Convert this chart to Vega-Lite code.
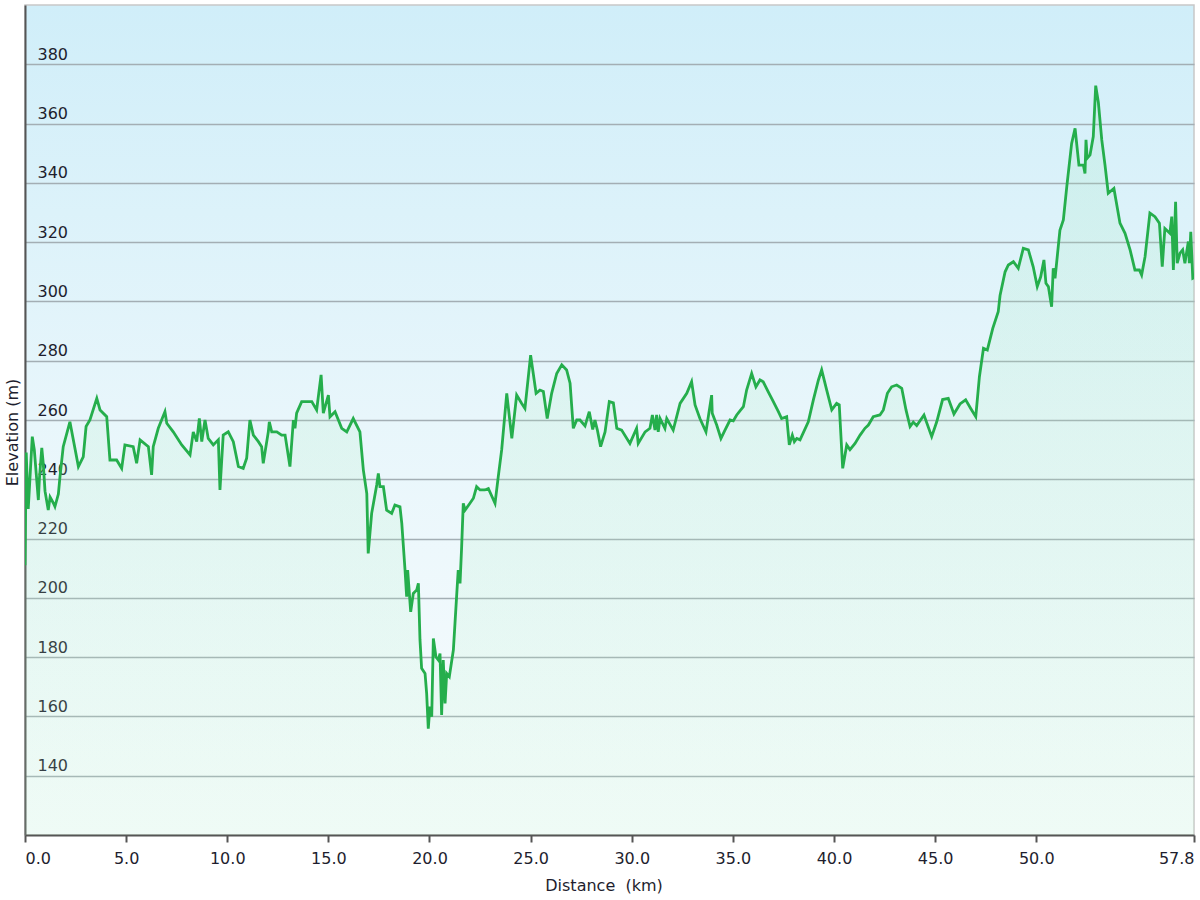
{
"$schema": "https://vega.github.io/schema/vega-lite/v6.json",
"width": 1169,
"height": 830,
"autosize": {"type": "none"},
"padding": {"left": 25, "top": 5, "right": 6, "bottom": 65},
"background": "white",
"config": {
  "font": "DejaVu Sans",
  "view": {
    "fill": {"gradient": "linear", "x1": 0, "y1": 0, "x2": 0, "y2": 1, "stops": [{"offset": 0, "color": "#d0eef9"}, {"offset": 0.5, "color": "#e8f6fb"}, {"offset": 1, "color": "#f8fcfe"}]},
    "stroke": "#c8c8c8",
    "strokeWidth": 1.5
  }
},
"data": {"values": [
{"d":0,"e":211},{"d":0.06,"e":249},{"d":0.16,"e":230},{"d":0.36,"e":254.4},{"d":0.46,"e":250},{"d":0.66,"e":233},{"d":0.71,"e":240},{"d":0.83,"e":250.6},{"d":0.9,"e":245.5},{"d":0.99,"e":236},{"d":1.15,"e":229.6},{"d":1.24,"e":234},{"d":1.4,"e":232},{"d":1.48,"e":230.8},{"d":1.65,"e":235},{"d":1.73,"e":240.9},{"d":1.89,"e":251},{"d":2.22,"e":259.4},{"d":2.64,"e":244.3},{"d":2.88,"e":247.6},{"d":3.02,"e":257.8},{"d":3.21,"e":260},{"d":3.55,"e":267.3},{"d":3.71,"e":263.4},{"d":4.04,"e":261.1},{"d":4.2,"e":246.5},{"d":4.53,"e":246.5},{"d":4.78,"e":243.7},{"d":4.94,"e":251.6},{"d":5.35,"e":251},{"d":5.52,"e":245.4},{"d":5.69,"e":253.3},{"d":6.1,"e":251},{"d":6.26,"e":241.5},{"d":6.34,"e":251},{"d":6.59,"e":257.2},{"d":6.92,"e":262.8},{"d":7.01,"e":258.9},{"d":7.33,"e":256},{"d":7.75,"e":251.6},{"d":8.16,"e":248.2},{"d":8.32,"e":256},{"d":8.49,"e":252.7},{"d":8.62,"e":260.5},{"d":8.74,"e":252.7},{"d":8.9,"e":260},{"d":9.06,"e":253.8},{"d":9.31,"e":251.6},{"d":9.56,"e":253.3},{"d":9.64,"e":236.4},{"d":9.8,"e":254.9},{"d":10.05,"e":256},{"d":10.3,"e":252.7},{"d":10.55,"e":244.3},{"d":10.79,"e":243.7},{"d":10.96,"e":247.1},{"d":11.12,"e":260},{"d":11.29,"e":254.9},{"d":11.54,"e":252.7},{"d":11.7,"e":251},{"d":11.78,"e":245.4},{"d":12.03,"e":256},{"d":12.08,"e":259.4},{"d":12.2,"e":256},{"d":12.45,"e":256},{"d":12.69,"e":254.9},{"d":12.86,"e":254.9},{"d":13.1,"e":244.3},{"d":13.27,"e":260},{"d":13.35,"e":257.2},{"d":13.43,"e":262.3},{"d":13.68,"e":266.2},{"d":14.18,"e":266.2},{"d":14.42,"e":263.4},{"d":14.64,"e":275.2},{"d":14.75,"e":262.3},{"d":15,"e":268.4},{"d":15.08,"e":261.1},{"d":15.33,"e":262.8},{"d":15.66,"e":257.2},{"d":15.91,"e":256},{"d":16.23,"e":260.5},{"d":16.56,"e":256},{"d":16.73,"e":243.1},{"d":16.9,"e":235.2},{"d":16.97,"e":215},{"d":17.14,"e":228.5},{"d":17.39,"e":238.1},{"d":17.47,"e":242},{"d":17.55,"e":237.5},{"d":17.72,"e":237.5},{"d":17.88,"e":229.6},{"d":18.13,"e":228.5},{"d":18.29,"e":231.3},{"d":18.54,"e":230.7},{"d":18.63,"e":225.1},{"d":18.79,"e":209.4},{"d":18.87,"e":200.4},{"d":18.92,"e":209.4},{"d":19.07,"e":195.3},{"d":19.2,"e":201.5},{"d":19.37,"e":202.7},{"d":19.45,"e":204.9},{"d":19.53,"e":185.8},{"d":19.61,"e":176.2},{"d":19.78,"e":174.5},{"d":19.86,"e":167.7},{"d":19.94,"e":155.9},{"d":20.02,"e":163.3},{"d":20.11,"e":159.9},{"d":20.19,"e":186.3},{"d":20.32,"e":180.1},{"d":20.44,"e":179},{"d":20.52,"e":181.2},{"d":20.6,"e":160.5},{"d":20.68,"e":179},{"d":20.77,"e":164.4},{"d":20.85,"e":174.5},{"d":20.98,"e":173.4},{"d":21.18,"e":182.4},{"d":21.26,"e":191.4},{"d":21.34,"e":200.4},{"d":21.42,"e":209.4},{"d":21.51,"e":204.9},{"d":21.59,"e":217.3},{"d":21.67,"e":231.9},{"d":21.76,"e":229.6},{"d":22,"e":231.9},{"d":22.17,"e":233.6},{"d":22.33,"e":237.5},{"d":22.5,"e":236.4},{"d":22.74,"e":236.4},{"d":22.91,"e":236.9},{"d":23.24,"e":231.9},{"d":23.4,"e":240.9},{"d":23.57,"e":250},{"d":23.82,"e":269},{"d":24.07,"e":253.8},{"d":24.31,"e":268.4},{"d":24.56,"e":265.6},{"d":24.72,"e":263.9},{"d":25,"e":281.9},{"d":25.27,"e":269},{"d":25.46,"e":270.1},{"d":25.63,"e":269.6},{"d":25.82,"e":260.5},{"d":26.04,"e":269},{"d":26.29,"e":275.7},{"d":26.54,"e":278.6},{"d":26.78,"e":276.9},{"d":26.95,"e":272.4},{"d":27.11,"e":257.2},{"d":27.28,"e":260},{"d":27.44,"e":260},{"d":27.69,"e":258},{"d":27.9,"e":262.8},{"d":28.07,"e":256.8},{"d":28.18,"e":260},{"d":28.3,"e":256.6},{"d":28.46,"e":251},{"d":28.68,"e":256},{"d":28.89,"e":266.2},{"d":29.09,"e":265.8},{"d":29.26,"e":257.2},{"d":29.5,"e":256.6},{"d":29.91,"e":252.1},{"d":30.24,"e":257.2},{"d":30.32,"e":252.1},{"d":30.66,"e":256},{"d":30.9,"e":257.2},{"d":31.02,"e":261.7},{"d":31.15,"e":256.6},{"d":31.23,"e":261.7},{"d":31.31,"e":256},{"d":31.4,"e":260.5},{"d":31.64,"e":257.2},{"d":31.73,"e":260.5},{"d":32.05,"e":256.6},{"d":32.39,"e":265.6},{"d":32.72,"e":269},{"d":32.96,"e":272.9},{"d":33.13,"e":265.1},{"d":33.37,"e":260.5},{"d":33.67,"e":256},{"d":33.95,"e":268.4},{"d":33.98,"e":262.3},{"d":34.2,"e":258.3},{"d":34.41,"e":253.8},{"d":34.61,"e":256.6},{"d":34.86,"e":260},{"d":35.02,"e":259.7},{"d":35.19,"e":261.7},{"d":35.35,"e":263.1},{"d":35.52,"e":264.5},{"d":35.68,"e":270.1},{"d":35.93,"e":275.7},{"d":36.14,"e":271.2},{"d":36.34,"e":273.5},{"d":36.5,"e":272.9},{"d":36.75,"e":269.5},{"d":37,"e":266.2},{"d":37.25,"e":262.8},{"d":37.41,"e":260.5},{"d":37.66,"e":261.1},{"d":37.79,"e":251.6},{"d":37.94,"e":254.9},{"d":38.04,"e":252.7},{"d":38.16,"e":253.8},{"d":38.32,"e":253.3},{"d":38.73,"e":259.4},{"d":38.98,"e":266.8},{"d":39.23,"e":273.5},{"d":39.39,"e":276.9},{"d":39.64,"e":270.1},{"d":39.89,"e":263.4},{"d":40.13,"e":265.6},{"d":40.26,"e":265.1},{"d":40.43,"e":243.7},{"d":40.63,"e":251.6},{"d":40.79,"e":250},{"d":41.04,"e":252.1},{"d":41.29,"e":254.9},{"d":41.53,"e":257.2},{"d":41.7,"e":258.3},{"d":41.94,"e":261.1},{"d":42.27,"e":261.7},{"d":42.44,"e":263.4},{"d":42.64,"e":269},{"d":42.85,"e":271.2},{"d":43.1,"e":271.8},{"d":43.35,"e":270.7},{"d":43.56,"e":263.4},{"d":43.76,"e":257.8},{"d":43.92,"e":259.3},{"d":44.09,"e":258.1},{"d":44.45,"e":261.7},{"d":44.83,"e":254.4},{"d":45.08,"e":259.4},{"d":45.37,"e":266.9},{"d":45.65,"e":267.3},{"d":45.93,"e":262},{"d":46.23,"e":265.4},{"d":46.51,"e":266.8},{"d":46.76,"e":263.9},{"d":47.01,"e":261.1},{"d":47.19,"e":274.6},{"d":47.39,"e":284.2},{"d":47.58,"e":283.6},{"d":47.85,"e":290.9},{"d":48.12,"e":296.5},{"d":48.21,"e":302},{"d":48.46,"e":310},{"d":48.62,"e":312.3},{"d":48.87,"e":313.4},{"d":49.11,"e":311.2},{"d":49.36,"e":317.9},{"d":49.61,"e":317.4},{"d":49.85,"e":311.7},{"d":50.05,"e":305},{"d":50.22,"e":308.3},{"d":50.38,"e":314},{"d":50.48,"e":306.1},{"d":50.6,"e":305},{"d":50.76,"e":298.2},{"d":50.84,"e":311.2},{"d":50.93,"e":307.8},{"d":51.17,"e":324},{"d":51.34,"e":327.5},{"d":51.51,"e":338.7},{"d":51.75,"e":353.3},{"d":51.92,"e":358.4},{"d":52.11,"e":346},{"d":52.33,"e":346},{"d":52.41,"e":343.2},{"d":52.46,"e":354.5},{"d":52.52,"e":348.3},{"d":52.66,"e":349.4},{"d":52.82,"e":355.6},{"d":52.94,"e":372.8},{"d":53.07,"e":367.2},{"d":53.24,"e":354.5},{"d":53.4,"e":346},{"d":53.56,"e":336.5},{"d":53.84,"e":338.1},{"d":54.14,"e":326.4},{"d":54.39,"e":323},{"d":54.64,"e":317.4},{"d":54.88,"e":310.6},{"d":55.1,"e":310.6},{"d":55.21,"e":308.9},{"d":55.38,"e":315.1},{"d":55.62,"e":329.8},{"d":55.87,"e":328.6},{"d":56.09,"e":326.4},{"d":56.23,"e":311.7},{"d":56.36,"e":324.6},{"d":56.61,"e":323},{"d":56.7,"e":328.6},{"d":56.78,"e":310.6},{"d":56.89,"e":333.6},{"d":56.97,"e":312.9},{"d":57.11,"e":316.3},{"d":57.24,"e":317.4},{"d":57.35,"e":312.9},{"d":57.52,"e":320.2},{"d":57.57,"e":312.9},{"d":57.64,"e":323.5},{"d":57.74,"e":307.8},{"d":57.8,"e":308}
]},
"mark": {
  "type": "area",
  "clip": true,
  "fill": {"gradient": "linear", "x1": 0, "y1": 0, "x2": 0, "y2": 1, "stops": [{"offset": 0, "color": "rgba(150,230,180,0.24)"}, {"offset": 1, "color": "rgba(190,245,200,0.22)"}]},
  "line": {"color": "#25ae4c", "strokeWidth": 2.8}
},
"encoding": {
  "x": {
    "field": "d", "type": "quantitative",
    "scale": {"domain": [0, 57.8], "nice": false, "zero": false},
    "axis": {
      "values": [0, 5, 10, 15, 20, 25, 30, 35, 40, 45, 50, 57.8],
      "format": ".1f",
      "labelFlush": true,
      "labelOverlap": false,
      "grid": false,
      "tickSize": 7, "tickWidth": 2, "tickColor": "#555555",
      "domainColor": "#555555", "domainWidth": 2,
      "labelPadding": 8,
      "labelFontSize": 16, "labelColor": "#1e1e2e",
      "title": "Distance\u00a0\u00a0(km)",
      "titleFontSize": 16, "titleFontWeight": "normal", "titleColor": "#1e1e2e",
      "titleX": 578.5, "titleY": 50, "titleBaseline": "middle", "titleAlign": "center"
    }
  },
  "y": {
    "field": "e", "type": "quantitative",
    "scale": {"domain": [120, 400], "nice": false, "zero": false},
    "axis": {
      "values": [140, 160, 180, 200, 220, 240, 260, 280, 300, 320, 340, 360, 380],
      "grid": true, "gridColor": "#a3aeb4", "gridWidth": 1.3,
      "ticks": false, "tickSize": 0,
      "domainColor": "#555555", "domainWidth": 2,
      "labelAlign": "left", "labelPadding": -12, "labelBaseline": "alphabetic", "labelOffset": -5,
      "labelFontSize": 16, "labelColor": "#1e1e2e",
      "title": "Elevation (m)",
      "titleFontSize": 16, "titleFontWeight": "normal", "titleColor": "#1e1e2e",
      "titleX": -13, "titleY": 427, "titleAngle": 270, "titleBaseline": "middle", "titleAlign": "center"
    }
  },
  "y2": {"datum": 120}
}
}
